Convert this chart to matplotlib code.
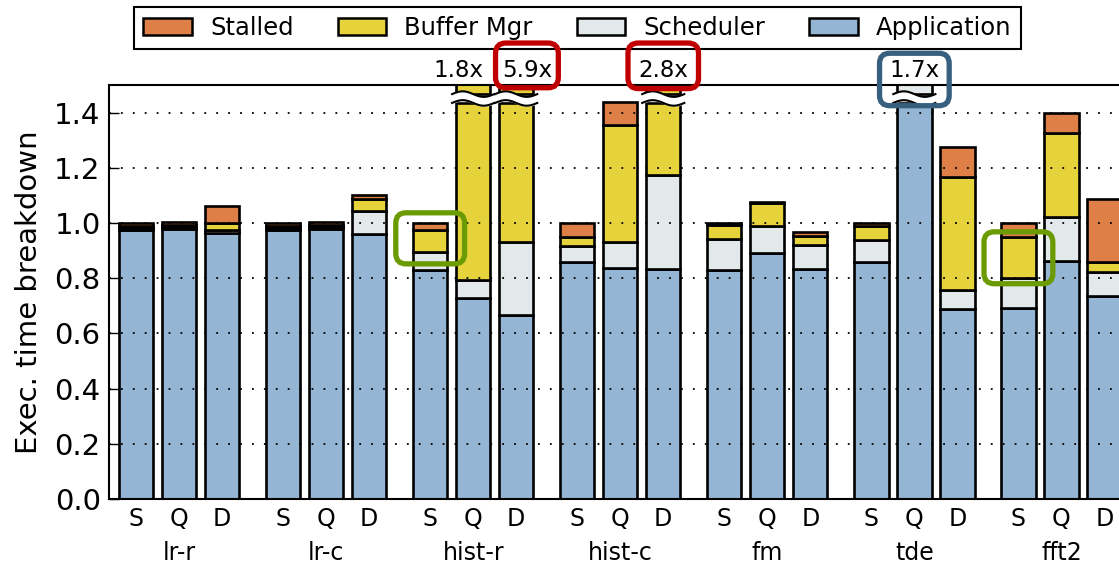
import numpy as np
import matplotlib
matplotlib.use('Agg')
import matplotlib.pyplot as plt
from matplotlib.patches import Patch, FancyBboxPatch

plt.rcParams['font.family'] = 'DejaVu Sans'

# benchmarks and runtime configurations
groups = ['lr-r', 'lr-c', 'hist-r', 'hist-c', 'fm', 'tde', 'fft2']
configs = ['S', 'Q', 'D']

# normalized execution time per component (S, Q, D for each benchmark)
app = [0.975, 0.978, 0.963,
       0.975, 0.978, 0.960,
       0.828, 0.730, 0.665,
       0.860, 0.837, 0.833,
       0.830, 0.890, 0.833,
       0.858, 1.550, 0.689,
       0.692, 0.862, 0.736]
sched = [0.008, 0.006, 0.010,
         0.008, 0.006, 0.082,
         0.067, 0.065, 0.266,
         0.058, 0.093, 0.342,
         0.113, 0.098, 0.086,
         0.081, 0.150, 0.067,
         0.108, 0.160, 0.085]
buf = [0.007, 0.008, 0.027,
       0.007, 0.010, 0.045,
       0.078, 1.005, 4.969,
       0.030, 0.424, 1.625,
       0.050, 0.083, 0.035,
       0.049, 0.000, 0.411,
       0.148, 0.304, 0.036]
stall = [0.010, 0.013, 0.063,
         0.010, 0.011, 0.016,
         0.027, 0.000, 0.000,
         0.052, 0.085, 0.000,
         0.007, 0.004, 0.012,
         0.012, 0.000, 0.109,
         0.052, 0.073, 0.230]

names = ['Application', 'Scheduler', 'Buffer Mgr', 'Stalled']
colors = ['#94b5d3', '#e3e8ea', '#e6d33c', '#de7f48']
parts = [app, sched, buf, stall]

ymax = 1.5
brk_lo, brk_hi = 1.435, 1.467
stride = 3.42
width = 0.8
edge_lw = 1.9

fig = plt.figure(figsize=(11.19, 5.67), dpi=100)
ax = fig.add_axes([0.0974, 0.1199, 0.9618, 0.7302])
ax.set_zorder(6)  # keep highlight boxes above the legend

xs = []
for g in range(len(groups)):
    for c in range(len(configs)):
        xs.append(g * stride + c)
xs = np.array(xs)

# label offsets so neighbouring labels don't collide
label_dx = {7: -0.35, 8: 0.25}

for i, x in enumerate(xs):
    vals = [p[i] for p in parts]
    total = sum(vals)
    broken = total > ymax
    bottom = 0.0
    top_col = colors[0]
    for v, col in zip(vals, colors):
        if v <= 0:
            continue
        top_col = col
        h = v
        if broken:
            if bottom >= brk_lo:
                bottom += v
                continue
            h = min(v, brk_lo - bottom)
        ax.bar(x, h, width, bottom=bottom, color=col, edgecolor='black',
               linewidth=edge_lw, zorder=1)
        bottom += v
    if broken:
        # stub above the break, in the colour of the top component
        ax.bar(x, 0.1, width, bottom=brk_hi, color=top_col, edgecolor='black',
               linewidth=edge_lw, zorder=1)
        t = np.linspace(0, 1, 60)
        wx = x - 0.49 + 0.98 * t
        wave = 0.010 * np.sin(2 * np.pi * t)
        ax.fill_between(wx, brk_lo + wave, brk_hi + wave, color='white', zorder=3)
        ax.plot(wx, brk_lo + wave, color='black', lw=1.5, zorder=4)
        ax.plot(wx, brk_hi + wave, color='black', lw=1.5, zorder=4)
        ax.annotate(f'{total:.1f}x', xy=(x + label_dx.get(i, 0), ymax),
                    xytext=(0, 2), textcoords='offset points',
                    ha='center', va='bottom', fontsize=16.5, annotation_clip=False)

# highlight boxes: (bar index, half width, y low, y high, colour)
boxes = [(6, 0.80, 0.852, 1.037, '#6b9b00'),
         (18, 0.80, 0.780, 0.968, '#6b9b00'),
         (8, 0.73, 1.490, 1.652, '#c00000'),
         (11, 0.82, 1.487, 1.652, '#c00000'),
         (16, 0.81, 1.425, 1.615, '#37607f')]
asp = (ymax / 414.0) / (1.0 / 43.0)
for idx, hw, y0, y1, col in boxes:
    cx = xs[idx] + label_dx.get(idx, 0)
    ax.add_patch(FancyBboxPatch((cx - hw, y0), 2 * hw, y1 - y0,
                                boxstyle='round,pad=0,rounding_size=0.24',
                                mutation_aspect=asp, fill=False, edgecolor=col,
                                linewidth=3.8, clip_on=False, zorder=6))

ax.set_xlim(-0.63, 24.4)
ax.set_ylim(0, ymax)
ax.set_yticks(np.arange(0, 1.41, 0.2))
ax.set_yticklabels([f'{v:.1f}' for v in np.arange(0, 1.41, 0.2)])
ax.tick_params(axis='y', direction='in', length=7, width=1, labelsize=21, pad=6)
ax.set_xticks(xs)
ax.set_xticklabels(configs * len(groups))
ax.tick_params(axis='x', length=0, labelsize=17, pad=6)
ax.yaxis.grid(True, linestyle=(0, (1, 5.6)), color='black', linewidth=1.3)
ax.set_ylabel('Exec. time breakdown', fontsize=21, labelpad=8)

for g, name in enumerate(groups):
    ax.text(g * stride + 1, -0.131, name, transform=ax.get_xaxis_transform(),
            ha='center', va='center', fontsize=17)

for s in ax.spines.values():
    s.set_linewidth(1.5)

handles = [Patch(facecolor=c, edgecolor='black', linewidth=1.8) for c in colors]
leg = fig.legend(handles[::-1], names[::-1], loc='upper center', ncol=4,
                 bbox_to_anchor=(0.516, 0.988), borderaxespad=0, fontsize=17.5,
                 fancybox=False, framealpha=1, edgecolor='black',
                 handlelength=2.0, handleheight=0.65, handletextpad=0.75,
                 columnspacing=1.8, borderpad=0.38)
leg.get_frame().set_linewidth(1.5)

plt.savefig('out.png', dpi=100)
